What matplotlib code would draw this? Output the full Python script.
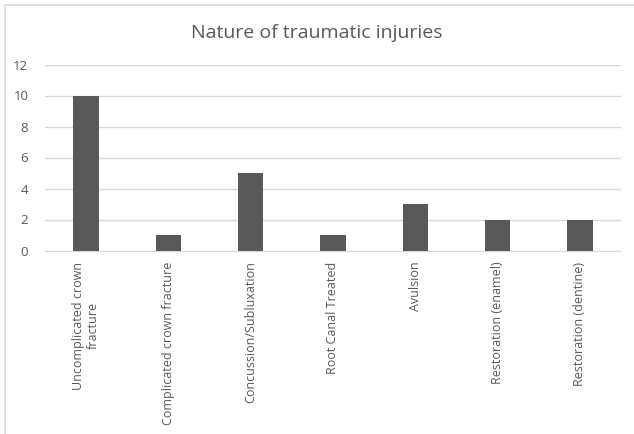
import matplotlib
matplotlib.use("Agg")
import matplotlib.pyplot as plt
from matplotlib.patches import Rectangle

categories = [
    "Uncomplicated crown\nfracture",
    "Complicated crown fracture",
    "Concussion/Subluxation",
    "Root Canal Treated",
    "Avulsion",
    "Restoration (enamel)",
    "Restoration (dentine)",
]
counts = [10, 1, 5, 1, 3, 2, 2]
y_ticks = [0, 2, 4, 6, 8, 10, 12]

plt.rcParams['font.family'] = ['Open Sans', 'DejaVu Sans']

fig = plt.figure(figsize=(6.34, 4.34), dpi=100)
ax = fig.add_axes([45 / 634, 1 - 250.5 / 434, 576 / 634, 186 / 434])

# chart frame, like the spreadsheet export (only left and top edges show)
fig.patches.append(Rectangle((5 / 634, -0.1), 1.0, 1.1 - 5 / 434,
                             transform=fig.transFigure, fill=False,
                             edgecolor='#d9d9d9', linewidth=1.2))

x = range(len(categories))
ax.bar(x, counts, width=0.31, color='#595959', zorder=3)

ax.set_ylim(0, 12)
ax.set_xlim(-0.5, len(categories) - 0.5)
ax.set_yticks(y_ticks)
ax.yaxis.grid(True, color='#d9d9d9', linewidth=1, zorder=0)
for side in ['top', 'right', 'left']:
    ax.spines[side].set_visible(False)
ax.spines['bottom'].set_color('#d9d9d9')
ax.tick_params(axis='both', length=0, colors='#595959', labelsize=9.5)
ax.tick_params(axis='y', pad=12)
ax.tick_params(axis='x', pad=8)
ax.set_xticks(list(x))
ax.set_xticklabels(categories, rotation=90, ha='center', va='top',
                   multialignment='center', fontsize=9)

fig.text(0.5, 1 - 33 / 434, "Nature of traumatic injuries", ha='center',
         va='center', fontsize=14, color='#595959')

fig.savefig("out.png", dpi=100)
